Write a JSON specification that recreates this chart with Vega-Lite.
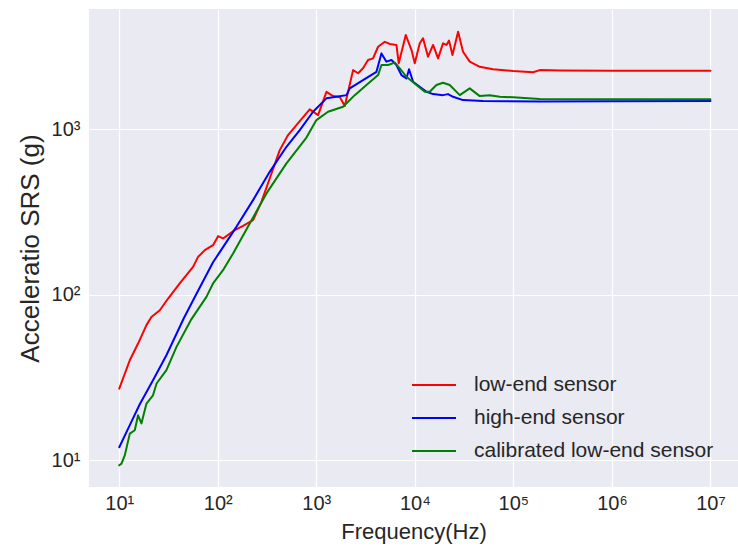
{
  "$schema": "https://vega.github.io/schema/vega-lite/v6.json",
  "width": 649,
  "height": 478,
  "autosize": {"type": "none"},
  "padding": {"left": 89, "top": 9, "right": 0, "bottom": 63},
  "background": "white",
  "config": {
    "view": {"fill": "#EAEAF2", "stroke": null},
    "font": "Liberation Sans",
    "axis": {
      "domain": false,
      "ticks": false,
      "gridColor": "white",
      "gridWidth": 1.2,
      "labelFont": "Liberation Sans",
      "titleFont": "Liberation Sans",
      "labelColor": "#262626",
      "titleColor": "#262626",
      "titleFontWeight": "normal"
    }
  },
  "data": {
    "values": [
      {"series": "low-end sensor", "f": 10, "a": 27.1},
      {"series": "low-end sensor", "f": 12.79, "a": 40.2},
      {"series": "low-end sensor", "f": 15.52, "a": 50.7},
      {"series": "low-end sensor", "f": 18.88, "a": 65.5},
      {"series": "low-end sensor", "f": 21.2, "a": 73.4},
      {"series": "low-end sensor", "f": 25.8, "a": 80.6},
      {"series": "low-end sensor", "f": 31.3, "a": 94.8},
      {"series": "low-end sensor", "f": 41.1, "a": 116.9},
      {"series": "low-end sensor", "f": 56.1, "a": 147.2},
      {"series": "low-end sensor", "f": 63.1, "a": 169.1},
      {"series": "low-end sensor", "f": 73.8, "a": 185.8},
      {"series": "low-end sensor", "f": 89.5, "a": 199.1},
      {"series": "low-end sensor", "f": 100.7, "a": 225.7},
      {"series": "low-end sensor", "f": 113, "a": 218.6},
      {"series": "low-end sensor", "f": 148.6, "a": 245.2},
      {"series": "low-end sensor", "f": 180.3, "a": 260.5},
      {"series": "low-end sensor", "f": 228, "a": 281.8},
      {"series": "low-end sensor", "f": 277.3, "a": 363.8},
      {"series": "low-end sensor", "f": 350.6, "a": 539.5},
      {"series": "low-end sensor", "f": 425.6, "a": 746.5},
      {"series": "low-end sensor", "f": 516.4, "a": 920},
      {"series": "low-end sensor", "f": 679, "a": 1117},
      {"series": "low-end sensor", "f": 857, "a": 1315},
      {"series": "low-end sensor", "f": 1042, "a": 1215},
      {"series": "low-end sensor", "f": 1268, "a": 1679},
      {"series": "low-end sensor", "f": 1479, "a": 1582},
      {"series": "low-end sensor", "f": 1730, "a": 1560},
      {"series": "low-end sensor", "f": 1945, "a": 1377},
      {"series": "low-end sensor", "f": 2361, "a": 2270},
      {"series": "low-end sensor", "f": 2655, "a": 2173},
      {"series": "low-end sensor", "f": 2979, "a": 2328},
      {"series": "low-end sensor", "f": 3350, "a": 2612},
      {"series": "low-end sensor", "f": 3767, "a": 2673},
      {"series": "low-end sensor", "f": 4236, "a": 3141},
      {"series": "low-end sensor", "f": 4955, "a": 3365},
      {"series": "low-end sensor", "f": 5563, "a": 3266},
      {"series": "low-end sensor", "f": 6503, "a": 3221},
      {"series": "low-end sensor", "f": 6866, "a": 2495},
      {"series": "low-end sensor", "f": 8090, "a": 3698},
      {"series": "low-end sensor", "f": 9250, "a": 3000},
      {"series": "low-end sensor", "f": 9980, "a": 2495},
      {"series": "low-end sensor", "f": 11220, "a": 3296},
      {"series": "low-end sensor", "f": 12110, "a": 3532},
      {"series": "low-end sensor", "f": 13610, "a": 2736},
      {"series": "low-end sensor", "f": 15310, "a": 3221},
      {"series": "low-end sensor", "f": 17210, "a": 2673},
      {"series": "low-end sensor", "f": 19320, "a": 3296},
      {"series": "low-end sensor", "f": 20940, "a": 3221},
      {"series": "low-end sensor", "f": 22230, "a": 3420},
      {"series": "low-end sensor", "f": 24100, "a": 2799},
      {"series": "low-end sensor", "f": 27480, "a": 3873},
      {"series": "low-end sensor", "f": 30830, "a": 2931},
      {"series": "low-end sensor", "f": 36060, "a": 2553},
      {"series": "low-end sensor", "f": 45600, "a": 2377},
      {"series": "low-end sensor", "f": 62230, "a": 2296},
      {"series": "low-end sensor", "f": 99300, "a": 2240},
      {"series": "low-end sensor", "f": 158500, "a": 2203},
      {"series": "low-end sensor", "f": 185400, "a": 2270},
      {"series": "low-end sensor", "f": 300000, "a": 2255},
      {"series": "low-end sensor", "f": 1000000, "a": 2250},
      {"series": "low-end sensor", "f": 10000000, "a": 2248},

      {"series": "high-end sensor", "f": 10, "a": 12.0},
      {"series": "high-end sensor", "f": 12.79, "a": 16.3},
      {"series": "high-end sensor", "f": 16.15, "a": 21.8},
      {"series": "high-end sensor", "f": 22.0, "a": 30.4},
      {"series": "high-end sensor", "f": 30.1, "a": 43.1},
      {"series": "high-end sensor", "f": 45.2, "a": 72.1},
      {"series": "high-end sensor", "f": 59.7, "a": 99.3},
      {"series": "high-end sensor", "f": 89.5, "a": 157},
      {"series": "high-end sensor", "f": 104.7, "a": 180.7},
      {"series": "high-end sensor", "f": 154.5, "a": 256.9},
      {"series": "high-end sensor", "f": 228, "a": 372.4},
      {"series": "high-end sensor", "f": 336.5, "a": 552},
      {"series": "high-end sensor", "f": 497.7, "a": 781.6},
      {"series": "high-end sensor", "f": 679, "a": 986},
      {"series": "high-end sensor", "f": 926.8, "a": 1272},
      {"series": "high-end sensor", "f": 1268, "a": 1533},
      {"series": "high-end sensor", "f": 1663, "a": 1571},
      {"series": "high-end sensor", "f": 2024, "a": 1603},
      {"series": "high-end sensor", "f": 2184, "a": 1762},
      {"series": "high-end sensor", "f": 2979, "a": 1977},
      {"series": "high-end sensor", "f": 4076, "a": 2218},
      {"series": "high-end sensor", "f": 4581, "a": 2864},
      {"series": "high-end sensor", "f": 5150, "a": 2553},
      {"series": "high-end sensor", "f": 5791, "a": 2612},
      {"series": "high-end sensor", "f": 6503, "a": 2438},
      {"series": "high-end sensor", "f": 7311, "a": 2119},
      {"series": "high-end sensor", "f": 8222, "a": 2023},
      {"series": "high-end sensor", "f": 8731, "a": 2296},
      {"series": "high-end sensor", "f": 9594, "a": 1932},
      {"series": "high-end sensor", "f": 11220, "a": 1803},
      {"series": "high-end sensor", "f": 13120, "a": 1679},
      {"series": "high-end sensor", "f": 15310, "a": 1626},
      {"series": "high-end sensor", "f": 19320, "a": 1603},
      {"series": "high-end sensor", "f": 21730, "a": 1626},
      {"series": "high-end sensor", "f": 24430, "a": 1567},
      {"series": "high-end sensor", "f": 30830, "a": 1496},
      {"series": "high-end sensor", "f": 49200, "a": 1476},
      {"series": "high-end sensor", "f": 185400, "a": 1469},
      {"series": "high-end sensor", "f": 1000000, "a": 1472},
      {"series": "high-end sensor", "f": 10000000, "a": 1475},

      {"series": "calibrated low-end sensor", "f": 10, "a": 9.33},
      {"series": "calibrated low-end sensor", "f": 10.53, "a": 9.55},
      {"series": "calibrated low-end sensor", "f": 11.37, "a": 10.7},
      {"series": "calibrated low-end sensor", "f": 12.79, "a": 14.5},
      {"series": "calibrated low-end sensor", "f": 14.36, "a": 15.2},
      {"series": "calibrated low-end sensor", "f": 15.52, "a": 18.7},
      {"series": "calibrated low-end sensor", "f": 16.79, "a": 16.7},
      {"series": "calibrated low-end sensor", "f": 18.88, "a": 22.0},
      {"series": "calibrated low-end sensor", "f": 22.0, "a": 24.7},
      {"series": "calibrated low-end sensor", "f": 23.9, "a": 29.1},
      {"series": "calibrated low-end sensor", "f": 30.1, "a": 35.0},
      {"series": "calibrated low-end sensor", "f": 38.1, "a": 48.4},
      {"series": "calibrated low-end sensor", "f": 53.2, "a": 70.2},
      {"series": "calibrated low-end sensor", "f": 76.7, "a": 97.0},
      {"series": "calibrated low-end sensor", "f": 89.5, "a": 116.9},
      {"series": "calibrated low-end sensor", "f": 113, "a": 140.6},
      {"series": "calibrated low-end sensor", "f": 142.9, "a": 177.4},
      {"series": "calibrated low-end sensor", "f": 210.9, "a": 269.2},
      {"series": "calibrated low-end sensor", "f": 311.9, "a": 408.8},
      {"series": "calibrated low-end sensor", "f": 497.7, "a": 620.8},
      {"series": "calibrated low-end sensor", "f": 794.3, "a": 889},
      {"series": "calibrated low-end sensor", "f": 1002, "a": 1133},
      {"series": "calibrated low-end sensor", "f": 1315, "a": 1272},
      {"series": "calibrated low-end sensor", "f": 1866, "a": 1364},
      {"series": "calibrated low-end sensor", "f": 2455, "a": 1603},
      {"series": "calibrated low-end sensor", "f": 3228, "a": 1845},
      {"series": "calibrated low-end sensor", "f": 4236, "a": 2119},
      {"series": "calibrated low-end sensor", "f": 4581, "a": 2438},
      {"series": "calibrated low-end sensor", "f": 5346, "a": 2438},
      {"series": "calibrated low-end sensor", "f": 6252, "a": 2518},
      {"series": "calibrated low-end sensor", "f": 7031, "a": 2328},
      {"series": "calibrated low-end sensor", "f": 8222, "a": 2070},
      {"series": "calibrated low-end sensor", "f": 10380, "a": 1845},
      {"series": "calibrated low-end sensor", "f": 12620, "a": 1679},
      {"series": "calibrated low-end sensor", "f": 14160, "a": 1679},
      {"series": "calibrated low-end sensor", "f": 16560, "a": 1845},
      {"series": "calibrated low-end sensor", "f": 19320, "a": 1905},
      {"series": "calibrated low-end sensor", "f": 22590, "a": 1845},
      {"series": "calibrated low-end sensor", "f": 28580, "a": 1603},
      {"series": "calibrated low-end sensor", "f": 36060, "a": 1762},
      {"series": "calibrated low-end sensor", "f": 45600, "a": 1582},
      {"series": "calibrated low-end sensor", "f": 57540, "a": 1603},
      {"series": "calibrated low-end sensor", "f": 72780, "a": 1567},
      {"series": "calibrated low-end sensor", "f": 99300, "a": 1556},
      {"series": "calibrated low-end sensor", "f": 185400, "a": 1517},
      {"series": "calibrated low-end sensor", "f": 1000000, "a": 1515},
      {"series": "calibrated low-end sensor", "f": 10000000, "a": 1512}
    ]
  },
  "mark": {"type": "line", "strokeWidth": 2, "strokeJoin": "round", "strokeCap": "round", "clip": true},
  "encoding": {
    "x": {
      "field": "f",
      "type": "quantitative",
      "scale": {"type": "log", "domain": [4.93, 19050000], "nice": false, "zero": false},
      "axis": {
        "values": [10, 100, 1000, 10000, 100000, 1000000, 10000000],
        "labelExpr": "'10' + ['⁰','¹','²','³','⁴','⁵','⁶','⁷'][round(log(datum.value)/LN10)]",
        "labelFontSize": 20,
        "labelPadding": 6,
        "title": "Frequency(Hz)",
        "titleFontSize": 22,
        "titlePadding": 8
      }
    },
    "y": {
      "field": "a",
      "type": "quantitative",
      "scale": {"type": "log", "domain": [6.902, 5309], "nice": false, "zero": false},
      "axis": {
        "values": [10, 100, 1000],
        "labelExpr": "'10' + ['⁰','¹','²','³','⁴','⁵','⁶','⁷'][round(log(datum.value)/LN10)]",
        "labelFontSize": 20,
        "labelPadding": 9,
        "title": "Acceleratio SRS (g)",
        "titleFontSize": 26,
        "titlePadding": 8
      }
    },
    "color": {
      "field": "series",
      "type": "nominal",
      "scale": {
        "domain": ["low-end sensor", "high-end sensor", "calibrated low-end sensor"],
        "range": ["#ff0000", "#0000ff", "#008000"]
      },
      "legend": {
        "orient": "none",
        "legendX": 322,
        "legendY": 353,
        "title": null,
        "symbolType": "stroke",
        "symbolSize": 1936,
        "symbolStrokeWidth": 2,
        "labelFontSize": 21,
        "labelOffset": 17,
        "labelColor": "#262626",
        "labelFont": "Liberation Sans",
        "rowPadding": -10,
        "padding": 0,
        "labelLimit": 400
      }
    }
  }
}
